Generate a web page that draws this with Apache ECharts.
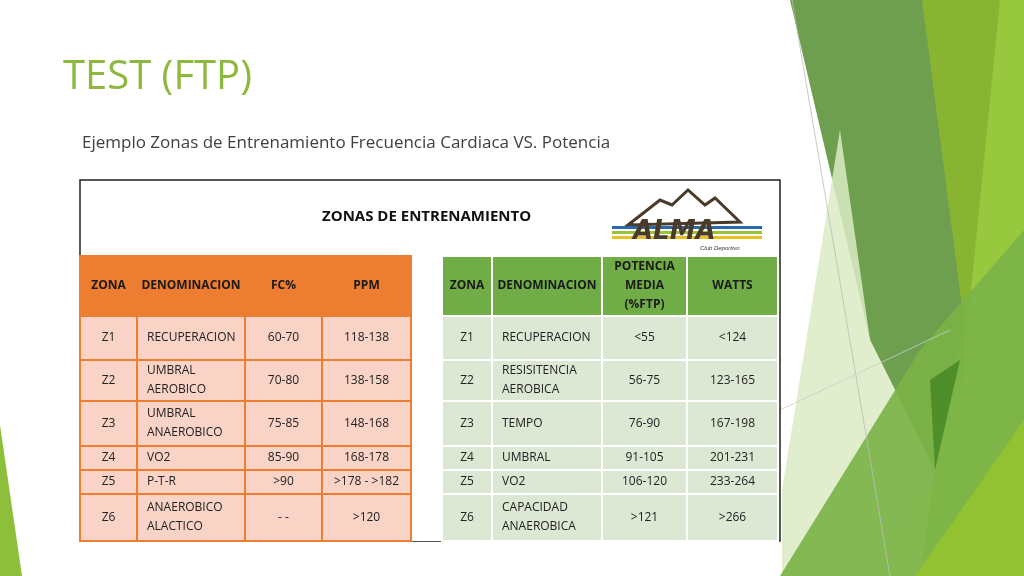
<!DOCTYPE html>
<html><head><meta charset="utf-8">
<script src="https://cdn.jsdelivr.net/npm/echarts@6/dist/echarts.min.js"></script>
<style>html,body{margin:0;padding:0;background:#fff}#c{width:1024px;height:576px}</style>
</head><body><div id="c"></div>
<script>
const leftHeaders = ['ZONA','DENOMINACION','FC%','PPM'];
const rightHeaders = ['ZONA','DENOMINACION','POTENCIA\nMEDIA\n(%FTP)','WATTS'];
const zones = ['Z1','Z2','Z3','Z4','Z5','Z6'];
const leftDenom = ['RECUPERACION','UMBRAL\nAEROBICO','UMBRAL\nANAEROBICO','VO2','P-T-R','ANAEROBICO\nALACTICO'];
const fcPct = ['60-70','70-80','75-85','85-90','>90','- -'];
const ppm = ['118-138','138-158','148-168','168-178','>178 - >182','>120'];
const rightDenom = ['RECUPERACION','RESISITENCIA\nAEROBICA','TEMPO','UMBRAL','VO2','CAPACIDAD\nANAEROBICA'];
const potencia = ['<55','56-75','76-90','91-105','106-120','>121'];
const watts = ['<124','123-165','167-198','201-231','233-264','>266'];

// layout (pixel grid)
const leftCols = [80,137,245,322,411];
const rightCols = [442,492,602,687,778];
const rowEdges = [256,316,360,401,446,470,494,541];

const cells = [];
function addTable(cols, headers, colsData, hdrColor, bodyColor, border) {
  headers.forEach((h,i)=>cells.push({x0:cols[i],x1:cols[i+1],y0:rowEdges[0],y1:rowEdges[1],t:h,fill:hdrColor,color:'#1a1a1a',bold:true,border,align:'center'}));
  zones.forEach((z,r)=>{
    colsData.forEach((arr,i)=>cells.push({x0:cols[i],x1:cols[i+1],y0:rowEdges[r+1],y1:rowEdges[r+2],t:arr[r],fill:bodyColor,color:'#222',bold:false,border,align:(i===1?'left':'center')}));
  });
}
addTable(leftCols,leftHeaders,[zones,leftDenom,fcPct,ppm],'#ED7D31','#F8D3C6','#ED7D31');
addTable(rightCols,rightHeaders,[zones,rightDenom,potencia,watts],'#70AD47','#DCE7D4','#ffffff');

const data = cells.map((c,i)=>[c.x0,c.y0,c.x1,c.y1,i]);

const chart = echarts.init(document.getElementById('c'));
chart.setOption({
  animation:false,
  grid:{left:0,top:0,width:1024,height:576},
  xAxis:{type:'value',min:0,max:1024,show:false},
  yAxis:{type:'value',min:0,max:576,inverse:true,show:false},
  graphic:[
    {type:'polygon',shape:{points:[[870,576],[1024,260],[1024,576]]},style:{fill:'#8FBF2C'},z:-10},
    {type:'polygon',shape:{points:[[995,0],[1024,0],[1024,576],[905,576]]},style:{fill:'#98C83E'},z:-9},
    {type:'polygon',shape:{points:[[920,0],[1000,0],[960,400],[935,390]]},style:{fill:'#88B431'},z:-9},
    {type:'polygon',shape:{points:[[790,0],[922,0],[965,330],[935,420],[935,470],[870,340]]},style:{fill:'#6E9F4E'},z:-8},
    {type:'polygon',shape:{points:[[840,130],[870,340],[935,470],[920,576],[782,576],[782,490]]},style:{fill:'#DCEBC4',opacity:0.85},z:-8},
    {type:'polygon',shape:{points:[[780,576],[920,350],[1024,230],[1024,576]]},style:{fill:'#7AB247',opacity:0.9},z:-7},
    {type:'polygon',shape:{points:[[915,576],[1024,420],[1024,576]]},style:{fill:'#92C131'},z:-6},
    {type:'polygon',shape:{points:[[930,380],[960,360],[935,470]]},style:{fill:'#4F8F2A'},z:-6},
    {type:'line',shape:{x1:792,y1:0,x2:890,y2:576},style:{stroke:'#bbb',lineWidth:0.8},z:-5},
    {type:'line',shape:{x1:780,y1:410,x2:950,y2:330},style:{stroke:'#ccc',lineWidth:0.8},z:-5},
    {type:'polygon',shape:{points:[[0,425],[22,576],[0,576]]},style:{fill:'#8DBF3A'},z:-5},
    {type:'text',left:63,top:58,style:{text:'TEST (FTP)',fill:'#8DB83E',font:'40px "Open Sans", sans-serif'}},
    {type:'text',left:82,top:135,style:{text:'Ejemplo Zonas de Entrenamiento Frecuencia Cardiaca VS. Potencia',fill:'#404040',font:'17px "Open Sans", sans-serif'}},
    {type:'rect',shape:{x:80,y:180,width:700,height:361},style:{fill:'#fff',stroke:'#222',lineWidth:1.5},z:-1},
    {type:'text',left:322,top:209,style:{text:'ZONAS DE ENTRENAMIENTO',fill:'#111',font:'bold 15px "Open Sans", sans-serif'}},
    {type:'rect',shape:{x:411,y:256,width:31,height:285},style:{fill:'#fff'},z:0},
    {type:'polygon',shape:{points:[[628,225],[660,200],[672,205],[688,190],[705,205],[715,198],[740,222]]},style:{fill:'#fff',stroke:'#4a3a2a',lineWidth:3}},
    {type:'rect',shape:{x:612,y:226,width:150,height:3},style:{fill:'#2b6aa8'}},
    {type:'rect',shape:{x:612,y:231,width:150,height:3},style:{fill:'#9ac43a'}},
    {type:'rect',shape:{x:612,y:236,width:150,height:3},style:{fill:'#e8c020'}},
    {type:'text',left:633,top:219,style:{text:'ALMA',fill:'#4a3a2a',font:'italic bold 26px "DejaVu Sans", sans-serif'}},
    {type:'text',left:700,top:245,style:{text:'Club Deportivo',fill:'#333',font:'italic 6px sans-serif'}}
  ],
  series:[{
    type:'custom',
    data:data,
    renderItem:function(params,api){
      const c = cells[api.value(4)];
      const p0 = api.coord([c.x0,c.y0]);
      const p1 = api.coord([c.x1,c.y1]);
      const w = p1[0]-p0[0], h = p1[1]-p0[1];
      return {type:'group',children:[
        {type:'rect',shape:{x:p0[0],y:p0[1],width:w,height:h},style:{fill:c.fill,stroke:c.border,lineWidth:2}},
        {type:'text',style:{text:c.t,x:c.align==='left'?p0[0]+10:p0[0]+w/2,y:p0[1]+h/2,align:c.align,verticalAlign:'middle',
          fill:c.color,font:(c.bold?'bold ':'')+'12px "Open Sans", sans-serif',lineHeight:19}}
      ]};
    }
  }]
});
</script></body></html>
